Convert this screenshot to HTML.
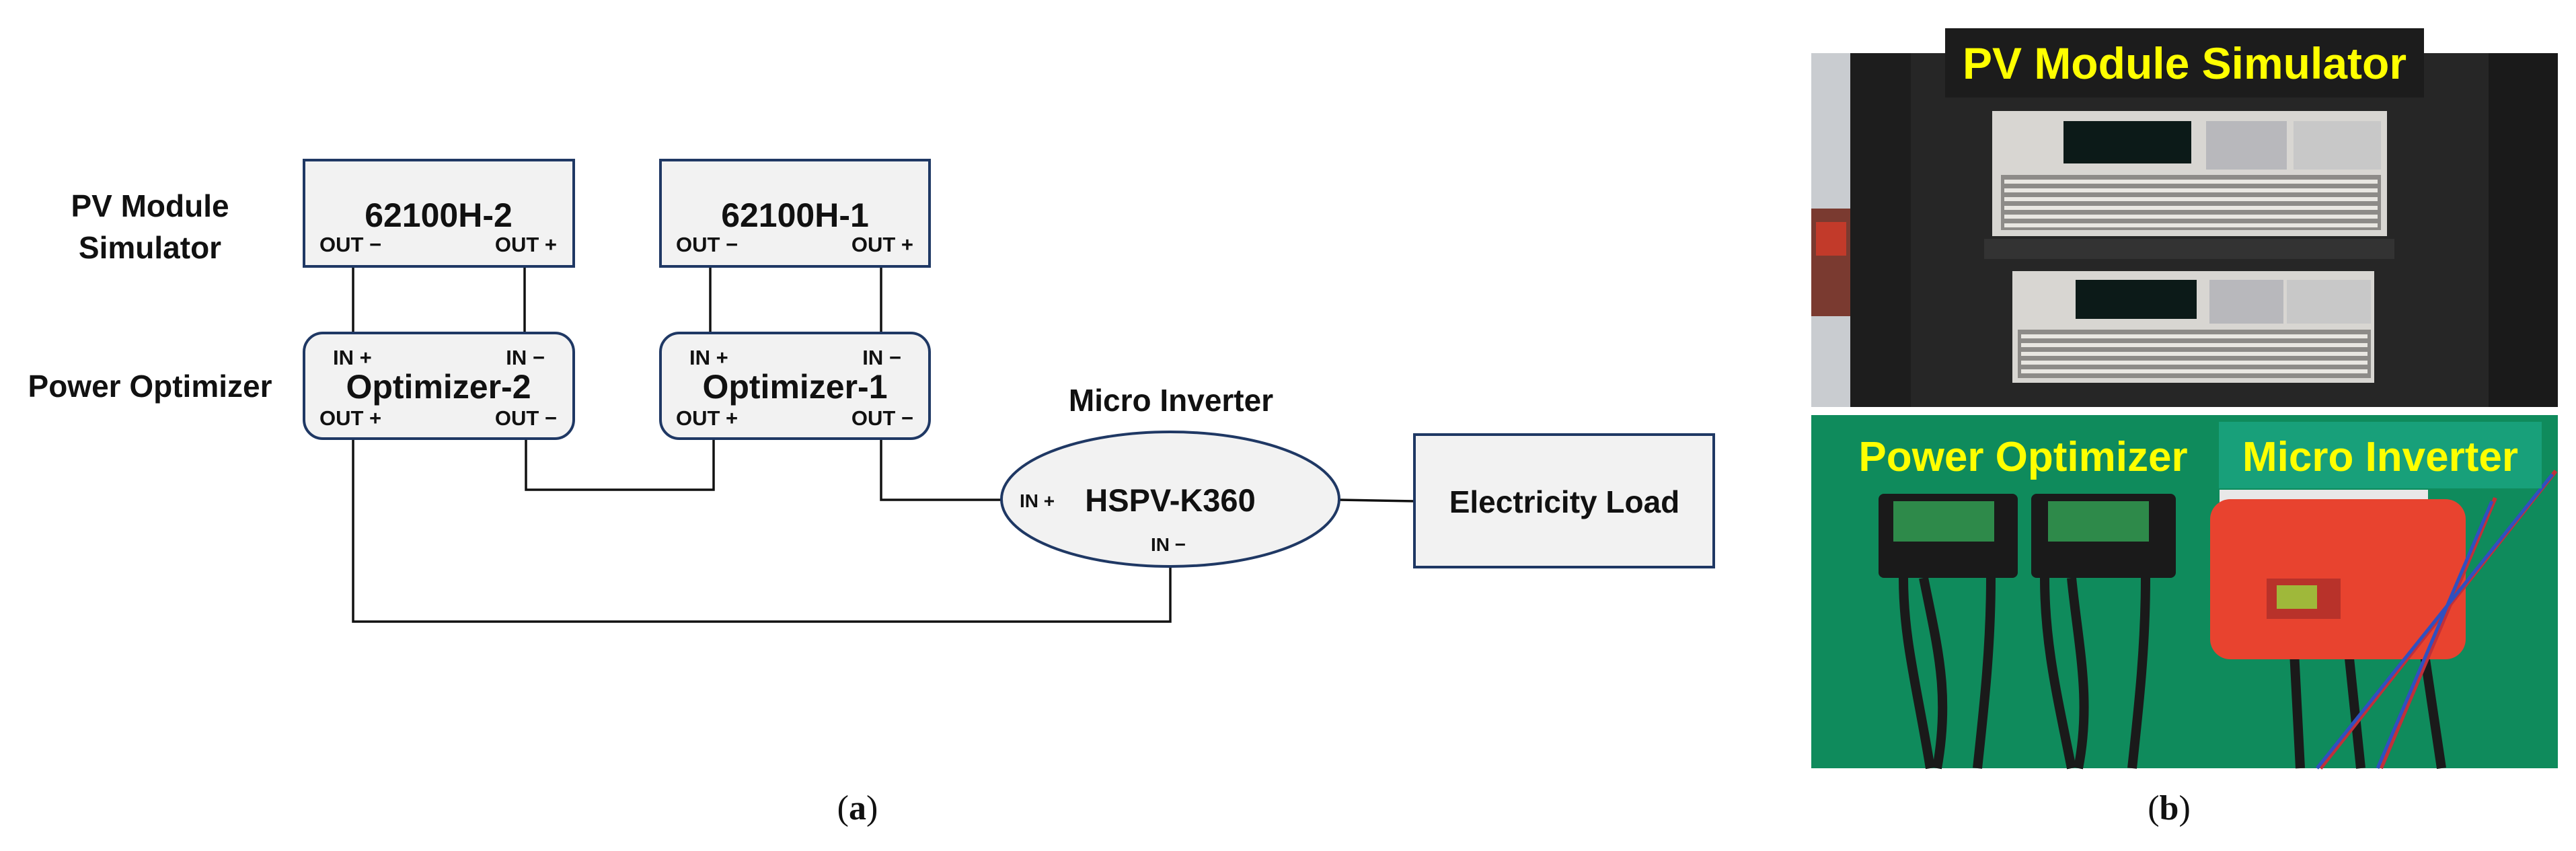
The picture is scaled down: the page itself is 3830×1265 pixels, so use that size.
<!DOCTYPE html>
<html><head><meta charset="utf-8"><style>
html,body{margin:0;padding:0;background:#fff;}
svg{display:block;}
text{font-family:"Liberation Sans",Arial,sans-serif;font-weight:bold;fill:#111;}
</style></head><body>
<svg width="3830" height="1265" viewBox="0 0 3830 1265" xmlns="http://www.w3.org/2000/svg">
<!-- wires -->
<g stroke="#111" stroke-width="3.5" fill="none">
<line x1="525" y1="396" x2="525" y2="495"/>
<line x1="780" y1="396" x2="780" y2="495"/>
<line x1="1056" y1="396" x2="1056" y2="495"/>
<line x1="1310" y1="396" x2="1310" y2="495"/>
<polyline points="782,652 782,728 1061,728 1061,652"/>
<polyline points="1310,652 1310,743 1489,743"/>
<polyline points="525,652 525,924 1740,924 1740,842"/>
<line x1="1991" y1="743" x2="2103" y2="745"/>
</g>
<!-- boxes -->
<g fill="#f2f2f2" stroke="#1f3864" stroke-width="4">
<rect x="452" y="238" width="401" height="158"/>
<rect x="982" y="238" width="400" height="158"/>
<rect x="452" y="495" width="401" height="157" rx="28"/>
<rect x="982" y="495" width="400" height="157" rx="28"/>
<ellipse cx="1740" cy="742" rx="251" ry="100"/>
<rect x="2103" y="646" width="445" height="197"/>
</g>
<!-- labels -->
<text x="223" y="322" font-size="46" text-anchor="middle">PV Module</text>
<text x="223" y="384" font-size="46" text-anchor="middle">Simulator</text>
<text x="223" y="590" font-size="46" text-anchor="middle">Power Optimizer</text>
<text x="1741" y="611" font-size="46" text-anchor="middle">Micro Inverter</text>

<text x="652" y="337" font-size="50" text-anchor="middle">62100H-2</text>
<text x="1182" y="337" font-size="50" text-anchor="middle">62100H-1</text>
<g font-size="31">
<text x="475" y="374">OUT −</text>
<text x="828" y="374" text-anchor="end">OUT +</text>
<text x="1005" y="374">OUT −</text>
<text x="1358" y="374" text-anchor="end">OUT +</text>
<text x="495" y="542">IN +</text>
<text x="810" y="542" text-anchor="end">IN −</text>
<text x="1025" y="542">IN +</text>
<text x="1340" y="542" text-anchor="end">IN −</text>
<text x="475" y="632">OUT +</text>
<text x="828" y="632" text-anchor="end">OUT −</text>
<text x="1005" y="632">OUT +</text>
<text x="1358" y="632" text-anchor="end">OUT −</text>
</g>
<text x="652" y="592" font-size="50" text-anchor="middle">Optimizer-2</text>
<text x="1182" y="592" font-size="50" text-anchor="middle">Optimizer-1</text>
<text x="1516" y="754" font-size="28">IN +</text>
<text x="1740" y="760" font-size="47" text-anchor="middle">HSPV-K360</text>
<text x="1711" y="819" font-size="28">IN −</text>
<text x="2326" y="762" font-size="46" text-anchor="middle">Electricity Load</text>

<text x="1275" y="1218" font-size="52" text-anchor="middle" style="font-family:'Liberation Serif',serif;font-weight:normal">(<tspan font-weight="bold">a</tspan>)</text>
<text x="3225" y="1218" font-size="52" text-anchor="middle" style="font-family:'Liberation Serif',serif;font-weight:normal">(<tspan font-weight="bold">b</tspan>)</text>

<!-- photo top -->
<rect x="2693" y="79" width="1110" height="526" fill="#262626"/>
<rect x="2693" y="79" width="58" height="526" fill="#c9ccd0"/>
<rect x="2693" y="310" width="58" height="160" fill="#7a3a30"/>
<rect x="2700" y="330" width="45" height="50" fill="#c23a2a"/>
<rect x="2751" y="79" width="90" height="526" fill="#1d1d1d"/>
<rect x="3700" y="79" width="103" height="526" fill="#1a1a1a"/>
<rect x="2950" y="355" width="610" height="30" fill="#333"/>
<!-- instrument 1 -->
<rect x="2962" y="165" width="587" height="186" fill="#d8d6d2"/>
<rect x="3068" y="180" width="190" height="63" fill="#0c1a18"/>
<rect x="3280" y="180" width="120" height="72" fill="#b8b8bc"/>
<rect x="3410" y="180" width="130" height="72" fill="#c8c8c8"/>
<rect x="2975" y="260" width="565" height="82" fill="#8d8b88"/>
<g stroke="#e9e7e2" stroke-width="6">
<line x1="2980" y1="270" x2="3535" y2="270"/><line x1="2980" y1="283" x2="3535" y2="283"/>
<line x1="2980" y1="296" x2="3535" y2="296"/><line x1="2980" y1="309" x2="3535" y2="309"/>
<line x1="2980" y1="322" x2="3535" y2="322"/><line x1="2980" y1="335" x2="3535" y2="335"/>
</g>
<!-- instrument 2 -->
<rect x="2992" y="403" width="538" height="166" fill="#d8d6d2"/>
<rect x="3086" y="416" width="180" height="58" fill="#0c1a18"/>
<rect x="3285" y="416" width="110" height="65" fill="#b8b8bc"/>
<rect x="3400" y="416" width="125" height="65" fill="#c8c8c8"/>
<rect x="3000" y="490" width="525" height="72" fill="#8d8b88"/>
<g stroke="#e9e7e2" stroke-width="6">
<line x1="3005" y1="500" x2="3520" y2="500"/><line x1="3005" y1="513" x2="3520" y2="513"/>
<line x1="3005" y1="526" x2="3520" y2="526"/><line x1="3005" y1="539" x2="3520" y2="539"/>
<line x1="3005" y1="552" x2="3520" y2="552"/>
</g>
<rect x="2892" y="42" width="712" height="103" fill="#1c1c1c"/>
<text x="3248" y="117" font-size="66" text-anchor="middle" style="fill:#ffff00">PV Module Simulator</text>
<!-- photo bottom -->
<rect x="2693" y="617" width="1110" height="525" fill="#0f8b5c"/>
<rect x="3300" y="728" width="310" height="20" fill="#e8e8e8"/>
<rect x="2793" y="734" width="207" height="125" rx="8" fill="#1a1a1a"/>
<rect x="2815" y="745" width="150" height="60" fill="#2e8a4a"/>
<rect x="3020" y="734" width="215" height="125" rx="8" fill="#1a1a1a"/>
<rect x="3045" y="745" width="150" height="60" fill="#2e8a4a"/>
<g stroke="#1a1a1a" stroke-width="14" fill="none">
<path d="M2830 859 C2830 950 2850 1020 2870 1142"/>
<path d="M2860 859 C2880 960 2900 1030 2880 1142"/>
<path d="M2960 859 C2960 960 2950 1050 2940 1142"/>
<path d="M3040 859 C3040 960 3060 1040 3080 1142"/>
<path d="M3080 859 C3090 960 3110 1040 3090 1142"/>
<path d="M3190 859 C3190 960 3180 1050 3170 1142"/>
<path d="M3410 950 L3420 1142"/><path d="M3490 950 L3510 1142"/><path d="M3600 940 L3630 1142"/>
</g>
<rect x="3286" y="742" width="380" height="238" rx="30" fill="#e8432f"/>
<rect x="3370" y="860" width="110" height="60" fill="#b8322a"/>
<rect x="3385" y="870" width="60" height="35" fill="#9fb83a"/>
<g stroke="#c0303a" stroke-width="6" fill="none"><path d="M3800 700 L3450 1142"/><path d="M3710 740 L3540 1142"/></g>
<g stroke="#3050c0" stroke-width="5" fill="none"><path d="M3795 705 L3445 1142"/><path d="M3705 745 L3535 1142"/></g>
<text x="3008" y="700" font-size="62" text-anchor="middle" style="fill:#ffff00">Power Optimizer</text>
<rect x="3299" y="627" width="480" height="99" fill="#18a07a"/>
<text x="3539" y="700" font-size="62" text-anchor="middle" style="fill:#ffff00">Micro Inverter</text>
</svg>
</body></html>
